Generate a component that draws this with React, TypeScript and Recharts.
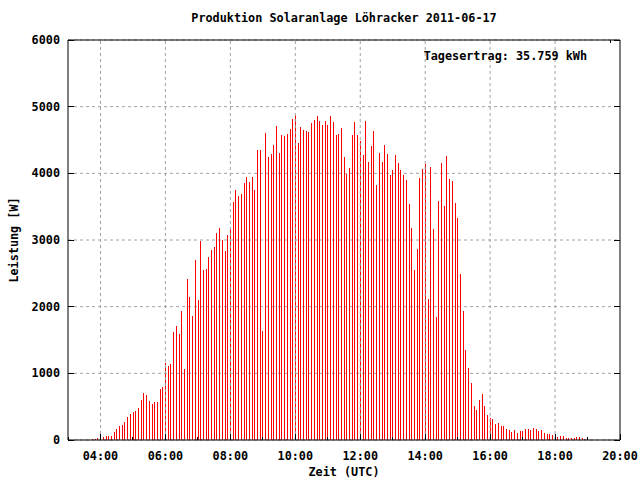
import { BarChart, Bar, XAxis, YAxis, CartesianGrid, ReferenceLine } from 'recharts';

// 5-minute power readings [W], starting at 03:45 UTC
const START_MIN = 3 * 60 + 45;
const STEP_MIN = 5;
const watts = [
  15, 15, 30, 60, 45, 60, 60, 60, 120, 165, 210, 225, 270, 345, 390, 420, 435, 480, 600, 705,
  675, 585, 540, 570, 570, 765, 795, 1150, 1110, 1140, 1620, 1710, 1590, 1935, 1065, 2415, 2145, 1860, 2700, 2100,
  2985, 2550, 2565, 2745, 2850, 2895, 3105, 3180, 3000, 2835, 3075, 3165, 3570, 3750, 3660, 3690, 3855, 3945, 3870, 3945,
  3750, 4350, 4350, 1635, 4605, 4245, 4290, 4425, 4710, 4305, 4575, 4560, 4590, 4665, 4815, 4875, 4455, 4695, 4650, 4635,
  4620, 4755, 4800, 4860, 4785, 4725, 4785, 4725, 4860, 4770, 4575, 4590, 4680, 4245, 3990, 4080, 4575, 4770, 4575, 4485,
  4275, 4785, 4170, 4410, 4635, 3825, 4305, 4170, 4425, 4290, 3975, 4050, 4275, 4155, 4050, 3975, 3900, 3540, 3180, 2550,
  2865, 3930, 4065, 4140, 2115, 4095, 3165, 1845, 3585, 4155, 3510, 4260, 3915, 3885, 3555, 3330, 2490, 1935, 1350, 1080,
  855, 510, 450, 600, 690, 510, 375, 330, 315, 240, 255, 210, 210, 165, 150, 120, 150, 105, 135, 135,
  165, 165, 150, 180, 165, 135, 150, 105, 90, 90, 75, 60, 45, 60, 60, 30, 30, 30, 30, 45,
  45, 30, 15, 30,
];

const xTicks = [180, 240, 300, 360, 420, 480, 540, 600, 660, 720, 780, 840, 900, 960, 1020, 1080, 1140, 1200];
const gridMinutes = [240, 360, 480, 600, 720, 840, 960, 1080];
const yTicks = [0, 1000, 2000, 3000, 4000, 5000, 6000];

const data = watts.map((w, i) => ({ t: START_MIN + i * STEP_MIN, w }));

const GRID = '#a0a0a0';

const FONT = {
  fontFamily: '"DejaVu Sans Mono", monospace',
  fontWeight: 'bold' as const,
  fontSize: 11.8,
  fill: '#000',
};

const fmt = (m: number) =>
  `${String(Math.floor(m / 60)).padStart(2, '0')}:${String(m % 60).padStart(2, '0')}`;

const isMajor = (m: number) => (m / 60) % 2 === 0;

function BottomTick({ x, y, payload }: any) {
  const major = isMajor(payload.value);
  return (
    <g>
      <line x1={x} x2={x} y1={y} y2={y - (major ? 6 : 3)} stroke="#000" shapeRendering="crispEdges" />
      {major && (
        <text x={x} y={y + 16} textAnchor="middle" dominantBaseline="central" style={FONT}>
          {fmt(payload.value)}
        </text>
      )}
    </g>
  );
}

function TopTick({ x, y, payload }: any) {
  const major = isMajor(payload.value);
  return <line x1={x} x2={x} y1={y} y2={y + (major ? 6 : 3)} stroke="#000" shapeRendering="crispEdges" />;
}

function LeftTick({ x, y, payload }: any) {
  return (
    <g>
      <line x1={x} x2={x + 6} y1={y} y2={y} stroke="#000" shapeRendering="crispEdges" />
      <text x={x - 8} y={y} textAnchor="end" dominantBaseline="central" style={FONT}>
        {payload.value}
      </text>
    </g>
  );
}

function RightTick({ x, y }: any) {
  return <line x1={x} x2={x - 6} y1={y} y2={y} stroke="#000" shapeRendering="crispEdges" />;
}

const textStyle: React.CSSProperties = {
  position: 'absolute',
  fontFamily: '"DejaVu Sans Mono", monospace',
  fontWeight: 'bold',
  fontSize: 11.8,
  color: '#000',
  whiteSpace: 'nowrap',
  lineHeight: '14px',
};

export default function App() {
  return (
    <div style={{ position: 'absolute', left: 0, top: 0, width: 640, height: 480, background: '#fff' }}>
      <BarChart width={640} height={480} data={data} margin={{ top: 0, right: 0, bottom: 0, left: 0 }}>
        <CartesianGrid stroke={GRID} strokeDasharray="3 3" vertical={false} />
        {gridMinutes.map((m) => (
          <ReferenceLine key={m} x={m} stroke={GRID} strokeDasharray="3 3" />
        ))}
        <XAxis
          dataKey="t"
          type="number"
          domain={[180, 1200]}
          ticks={xTicks}
          interval={0}
          height={40}
          tickSize={0}
          tickMargin={0}
          tickLine={false}
          tick={BottomTick}
          axisLine={{ stroke: '#000' }}
          allowDataOverflow
        />
        <XAxis
          xAxisId="top"
          orientation="top"
          type="number"
          domain={[180, 1200]}
          ticks={xTicks}
          interval={0}
          height={40}
          tickSize={0}
          tickMargin={0}
          tickLine={false}
          tick={TopTick}
          axisLine={{ stroke: '#000' }}
          allowDataOverflow
        />
        <YAxis
          domain={[0, 6000]}
          ticks={yTicks}
          interval={0}
          width={68}
          tickSize={0}
          tickMargin={0}
          tickLine={false}
          tick={LeftTick}
          axisLine={{ stroke: '#000' }}
          allowDataOverflow
        />
        <YAxis
          yAxisId="r"
          orientation="right"
          domain={[0, 6000]}
          ticks={yTicks}
          interval={0}
          width={20}
          tickSize={0}
          tickMargin={0}
          tickLine={false}
          tick={RightTick}
          axisLine={{ stroke: '#000' }}
          allowDataOverflow
        />
        <Bar dataKey="w" fill="#ff0000" barSize={1} isAnimationActive={false} shapeRendering="crispEdges" />
      </BarChart>
      <div style={{ ...textStyle, left: 344, top: 11, transform: 'translateX(-50%)' }}>
        Produktion Solaranlage Löhracker 2011-06-17
      </div>
      <div style={{ ...textStyle, right: 53, top: 49 }}>Tagesertrag: 35.759 kWh</div>
      <div style={{ ...textStyle, left: 344, top: 465, transform: 'translateX(-50%)' }}>Zeit (UTC)</div>
      <div
        style={{
          ...textStyle,
          left: 14,
          top: 240,
          transform: 'translate(-50%, -50%) rotate(-90deg)',
        }}
      >
        Leistung [W]
      </div>
    </div>
  );
}
